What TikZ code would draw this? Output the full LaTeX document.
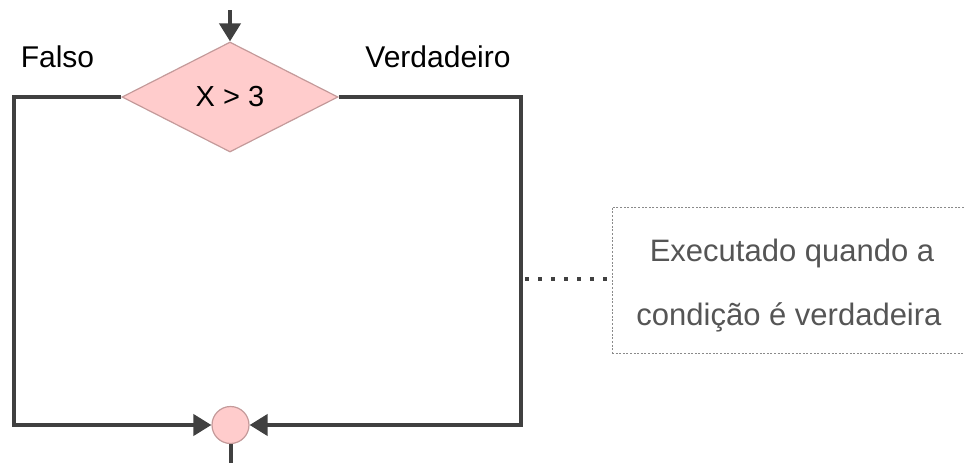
\documentclass[tikz,border=0pt]{standalone}
\usepackage{fontspec}
\setmainfont{Liberation Sans}
\usetikzlibrary{shapes.geometric,arrows.meta}

\definecolor{linegray}{HTML}{404040}
\definecolor{pinkfill}{HTML}{FFCCCC}
\definecolor{pinkedge}{HTML}{C49A9A}
\definecolor{notegray}{HTML}{555555}
\definecolor{noteedge}{HTML}{8A8A8A}

\tikzset{
  flow/.style={draw=linegray, line width=4pt},
  tip/.style={-{Triangle[length=18pt,width=21pt]}},
  decision/.style={diamond, draw=pinkedge, fill=pinkfill, line width=1.2pt,
    inner sep=0pt, aspect=1.96, minimum width=216pt, minimum height=110pt,
    font=\fontsize{29}{34}\selectfont},
  joinpt/.style={circle, draw=pinkedge, fill=pinkfill, line width=1.2pt,
    inner sep=0pt, minimum size=37pt},
  branch/.style={font=\fontsize{30}{36}\selectfont, text=black, anchor=base, inner sep=0pt},
  notebox/.style={draw=noteedge, line width=1pt, dash pattern=on 2pt off 1.6pt,
    minimum width=364pt, minimum height=146pt, inner sep=0pt},
  notetext/.style={font=\fontsize{31}{37}\selectfont, text=notegray, anchor=base, inner sep=0pt},
  dots/.style={draw=linegray, line width=4pt, dash pattern=on 4pt off 9pt}
}

\begin{document}
\begin{tikzpicture}[x=1pt,y=-1pt]
  \useasboundingbox (0,0) rectangle (964,463);
  \clip (0,0) rectangle (964,463);

  % decision and merge point
  \node[decision] (dec) at (230,97) {X > 3};
  \node[joinpt] (join) at (230.5,425) {};

  % branch labels
  \node[branch] (lfalse) at (57.5,67) {Falso};
  \node[branch] (ltrue) at (438,67) {Verdadeiro};

  % entry and exit
  \coordinate (entry) at (230,10);
  \coordinate (exit) at (230.5,470);
  \draw[flow,tip] (entry) -- (dec.north);
  \draw[flow] (join.south) -- (exit);

  % false branch (left)
  \coordinate (lt) at (14,97);
  \coordinate (lb) at (14,425);
  \draw[flow,tip,line join=miter] (dec.west) -- (lt) -- (lb) -- (join.west);

  % true branch (right)
  \coordinate (rt) at (521,97);
  \coordinate (rb) at (521,425);
  \draw[flow,tip,line join=miter] (dec.east) -- (rt) -- (rb) -- (join.east);

  % annotation
  \node[notebox] (note) at (794,280) {};
  \node[notetext] (n1) at (792,261) {Executado quando a};
  \node[notetext] (n2) at (789,325) {condição é verdadeira};
  \coordinate (rmid) at (525,279);
  \draw[dots] (rmid) -- (note.west |- rmid);
\end{tikzpicture}
\end{document}
